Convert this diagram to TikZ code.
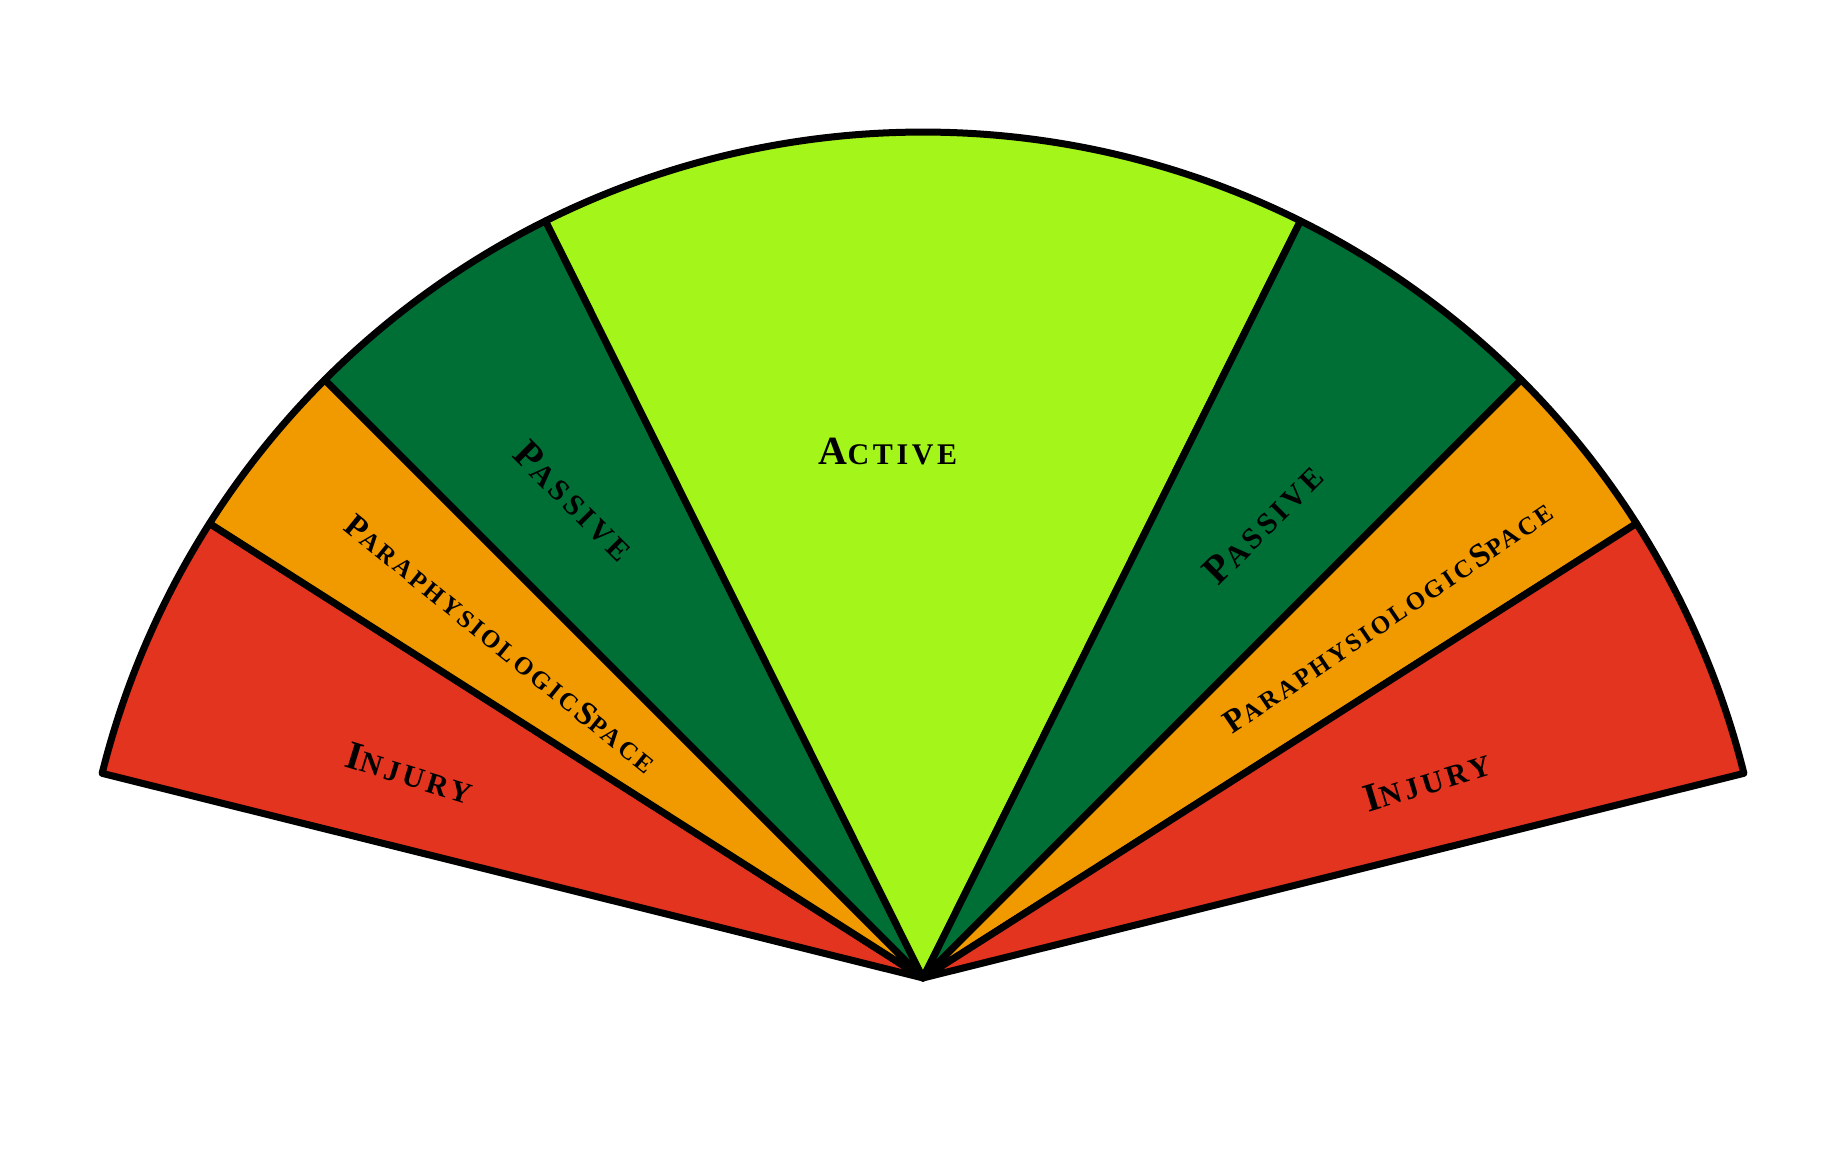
\documentclass[tikz,border=0pt]{standalone}
\usepackage{fontspec}
\setmainfont{TeX Gyre Heros}
\newfontfamily\labfont[LetterSpace=12]{Liberation Serif}
\definecolor{inj}{HTML}{E3341F}
\definecolor{para}{HTML}{F09A00}
\definecolor{pas}{HTML}{006F35}
\definecolor{act}{HTML}{A4F519}
\newcommand\bigsc[2]{{\fontsize{40}{40}\selectfont #1}{\fontsize{30}{30}\selectfont #2}}
\newcommand\smlsc[2]{{\fontsize{33}{33}\selectfont #1}{\fontsize{25}{25}\selectfont #2}}
\tikzset{sect/.style={draw=black,line width=7pt,line join=round},
lab/.style={font=\labfont\bfseries,inner sep=0pt}}
\begin{document}
\begin{tikzpicture}[x=1pt,y=1pt]
\useasboundingbox (0,0) rectangle (1837,1172);
\coordinate (O) at (923,194);
\def\R{846}
\foreach \a/\b/\c in {166/147.5/inj,147.5/135/para,135/116.5/pas,116.5/63.5/act,63.5/45/pas,45/32.5/para,32.5/14/inj}{
  \filldraw[sect,fill=\c] (O) -- ++(\a:\R) arc[start angle=\a,end angle=\b,radius=\R] -- cycle;
}
\node[lab] (la) at (888,720) {\bigsc{A}{CTIVE}};
\node[lab,rotate=-45] (lp) at (574,671) {\bigsc{P}{ASSIVE}};
\node[lab,rotate=-39] (lpa) at (501,528) {\smlsc{P}{ARAPHYSIOLOGIC} \smlsc{S}{PACE}};
\node[lab,rotate=-17] (li) at (410,399) {\bigsc{I}{NJURY}};
\node[lab,rotate=45] (rp) at (1263,648) {\bigsc{P}{ASSIVE}};
\node[lab,rotate=34] (rpa) at (1388,555) {\smlsc{P}{ARAPHYSIOLOGIC} \smlsc{S}{PACE}};
\node[lab,rotate=17] (ri) at (1427,391) {\bigsc{I}{NJURY}};
\end{tikzpicture}
\end{document}
